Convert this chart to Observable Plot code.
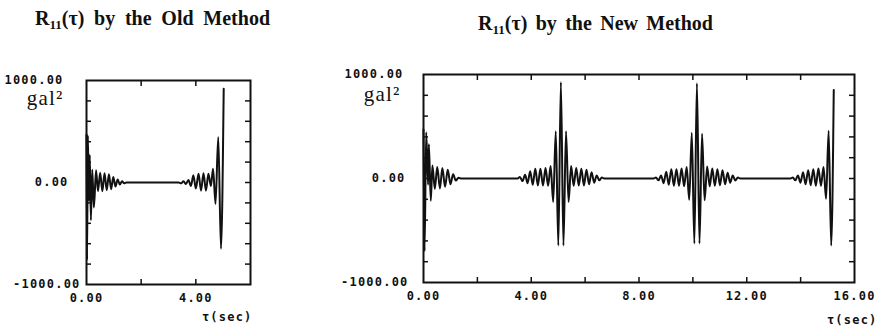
<!DOCTYPE html>
<html><head><meta charset="utf-8">
<script src="https://cdn.jsdelivr.net/npm/d3@7"></script>
<script src="https://cdn.jsdelivr.net/npm/@observablehq/plot@0.6"></script>
<style>
body{margin:0;background:#fff;}
#wrap{position:relative;width:880px;height:329px;overflow:hidden;background:#fff;}
.panel{position:absolute;top:0;}
.title{position:absolute;font-family:"Liberation Serif",serif;font-weight:bold;font-size:20px;white-space:nowrap;color:#111;line-height:1;}
.title sub{font-size:13px;vertical-align:-4px;line-height:0;}
</style></head><body>
<div id="wrap">
<div class="panel" id="p1" style="left:0"></div>
<div class="panel" id="p2" style="left:300px"></div>
<div class="title" id="t1" style="left:35px;top:8px;">R<sub>11</sub>(τ) by the Old Method</div>
<div class="title" id="t2" style="left:478px;top:13px;">R<sub>11</sub>(τ) by the New Method</div>
</div>
<script>
// ---- data ----
const oldTime = [0, 0.02, 0.05, 0.09, 0.12, 0.16, 0.21, 0.27, 0.35, 0.42, 0.50, 0.58, 0.66, 0.74, 0.82, 0.90, 0.98, 1.06, 1.14, 1.22, 1.30, 1.38, 1.46,
  3.37, 3.46, 3.55, 3.64, 3.73, 3.82, 3.91, 4.00, 4.10, 4.19, 4.28, 4.37, 4.46, 4.55, 4.63, 4.72, 4.82, 4.92, 5.02];
const oldR = [470, -760, 460, -180, 270, -370, 125, -245, 120, -85, 95, -85, 90, -75, 80, -65, 55, -40, 30, -20, 12, -8, 0,
  0, -8, 12, -15, 25, -35, 70, -60, 85, -80, 90, -80, 85, -35, 135, -210, 445, -650, 920];

const newTime = [0, 0.04, 0.10, 0.17, 0.20, 0.27, 0.33, 0.42, 0.51, 0.61, 0.70, 0.80, 0.90, 1.00, 1.10, 1.20, 1.30, 1.40,
  3.49, 3.58, 3.675, 3.77, 3.865, 3.96, 4.055, 4.15, 4.245, 4.34, 4.435, 4.53, 4.625, 4.72, 4.815, 4.91, 5.005, 5.10, 5.195, 5.29, 5.385, 5.48, 5.575, 5.67, 5.765, 5.86, 5.955, 6.05, 6.145, 6.24, 6.335, 6.43, 6.525, 6.62, 6.71,
  8.54, 8.63, 8.725, 8.82, 8.915, 9.01, 9.105, 9.20, 9.295, 9.39, 9.485, 9.58, 9.675, 9.77, 9.865, 9.96, 10.055, 10.15, 10.245, 10.34, 10.435, 10.53, 10.625, 10.72, 10.815, 10.91, 11.005, 11.10, 11.195, 11.29, 11.385, 11.48, 11.575, 11.67, 11.76,
  13.62, 13.71, 13.805, 13.90, 13.995, 14.09, 14.185, 14.28, 14.375, 14.47, 14.565, 14.66, 14.755, 14.85, 14.945, 15.04, 15.135, 15.23];
const newR = [470, -700, 445, -60, 330, -215, 125, -100, 110, -95, 100, -80, 85, -55, 40, -20, 8, 0,
  0, 15, -25, 35, -45, 70, -60, 93, -67, 93, -67, 100, -70, 120, -225, 455, -645, 925, -645, 455, -225, 120, -70, 100, -67, 93, -67, 85, -55, 60, -40, 30, -18, 10, 0,
  0, 10, -18, 30, -45, 65, -60, 90, -70, 90, -70, 95, -75, 110, -205, 440, -625, 915, -625, 430, -210, 115, -75, 95, -70, 90, -65, 80, -55, 55, -40, 30, -20, 10, 0,
  0, 10, -18, 30, -40, 60, -55, 80, -65, 90, -70, 95, -70, 110, -195, 460, -645, 850];

const oldXLabels = [0, 4];
const newXLabels = [0, 4, 8, 12, 16];
const oldXMinor = [2, 4];
const newXMinor = [2, 4, 6, 8, 10, 12, 14];
const yLabels = [1000, 0, -1000];
const yMinor = [-800, -600, -400, -200, 0, 200, 400, 600, 800];
const yUnit = "gal²";
const xUnit = "τ(sec)";

// ---- drawing ----
const ink = "#111";
const mono = "DejaVu Sans Mono";
const fmt = d => d.toFixed(2);

function panel(o) {
  const data = o.time.map((t, i) => ({t, r: o.r[i]}));
  const marks = [
    Plot.line(data, {x: "t", y: "r", stroke: ink, strokeWidth: 2, curve: "monotone-x"}),
    Plot.frame({stroke: ink, strokeWidth: 2}),
    Plot.axisX({anchor: "bottom", ticks: o.xMinor, tickSize: -5, tickFormat: () => "", label: null, stroke: ink, strokeWidth: 1.5}),
    Plot.axisX({anchor: "top", ticks: o.xMinor, tickSize: -5, tickFormat: () => "", label: null, stroke: ink, strokeWidth: 1.5}),
    Plot.axisY({anchor: "left", ticks: yMinor, tickSize: -5, tickFormat: () => "", label: null, stroke: ink, strokeWidth: 1.5}),
    Plot.axisY({anchor: "right", ticks: yMinor, tickSize: -6, tickFormat: () => "", label: null, stroke: ink, strokeWidth: 1.5}),
    Plot.axisX({anchor: "bottom", ticks: o.xLabels, tickSize: 0, tickPadding: 9, tickFormat: fmt, label: null,
      fill: ink, fontFamily: mono, fontWeight: "bold"}),
    ...yLabels.map((v, i) => Plot.axisY({anchor: "left", ticks: [v], tickSize: 0, tickPadding: o.yPad[i], tickFormat: fmt, label: null,
      fill: ink, fontFamily: mono, fontWeight: "bold"})),
    Plot.text([yUnit], {frameAnchor: "top-left", dx: -23, dy: o.galDy, textAnchor: "end", lineAnchor: "middle",
      fontFamily: "Liberation Serif", fontSize: 21, fill: ink}),
    Plot.text([xUnit], {frameAnchor: "bottom-right", dx: o.tauDx, dy: o.tauDy, textAnchor: "end", lineAnchor: "middle",
      fontFamily: mono, fontWeight: "bold", fontSize: 12, fill: ink})
  ];
  return Plot.plot({
    width: o.width, height: 329,
    marginLeft: o.mL, marginRight: o.mR, marginTop: o.mT, marginBottom: o.mB,
    x: {domain: o.xDomain},
    y: {domain: [-1000, 1000]},
    style: {background: "transparent", overflow: "visible", fontFamily: mono, fontSize: "12px", letterSpacing: "1.2px", color: ink},
    marks
  });
}

document.getElementById("p1").append(panel({
  time: oldTime, r: oldR, xDomain: [0, 6], width: 270, mL: 86, mR: 20, mT: 80, mB: 45,
  xLabels: oldXLabels, xMinor: oldXMinor, yPad: [23, 18, 6], galDy: 18, tauDx: 2, tauDy: 33
}));
document.getElementById("p2").append(panel({
  time: newTime, r: newR, xDomain: [0, 16], width: 580, mL: 123, mR: 26, mT: 74, mB: 47,
  xLabels: newXLabels, xMinor: newXMinor, yPad: [20, 18, 15], galDy: 20, tauDx: 23, tauDy: 38
}));

// stretch title word spacing to the printed width
for (const id of ["t1", "t2"]) {
  const el = document.getElementById(id);
  const w = el.getBoundingClientRect().width;
  el.style.wordSpacing = Math.max(0, (235 - w) / 4) + "px";
}
</script>
</body></html>
